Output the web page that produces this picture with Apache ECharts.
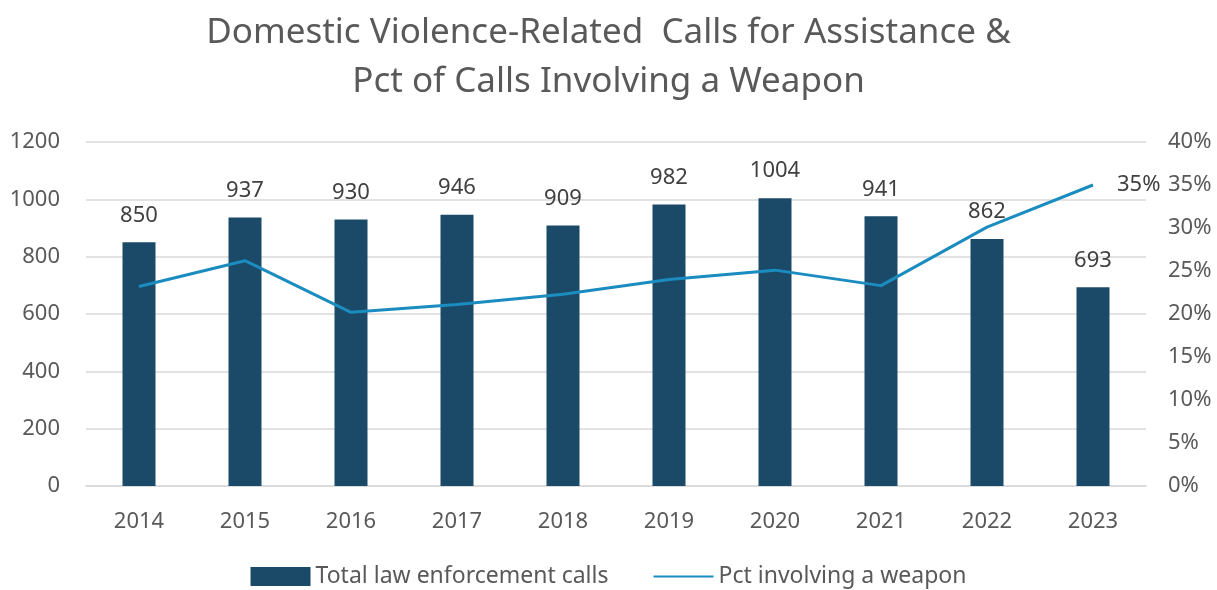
<!DOCTYPE html>
<html>
<head>
<meta charset="utf-8">
<script src="https://cdn.jsdelivr.net/npm/echarts@6/dist/echarts.min.js"></script>
<style>
  html, body { margin: 0; padding: 0; background: #fff; }
  #chart { width: 1217px; height: 590px; }
</style>
</head>
<body>
<div id="chart"></div>
<script>
// data
var years = ['2014', '2015', '2016', '2017', '2018', '2019', '2020', '2021', '2022', '2023'];
var totalCalls = [850, 937, 930, 946, 909, 982, 1004, 941, 862, 693];
var pctWeapon = [23.2, 26.2, 20.2, 21.1, 22.3, 24.0, 25.1, 23.3, 30.1, 35.0];

var chart = echarts.init(document.getElementById('chart'));
var font = '"Noto Sans", sans-serif';

var option = {
    animation: false,
    textStyle: { fontFamily: font },
    title: {
        text: 'Domestic Violence-Related  Calls for Assistance &\nPct of Calls Involving a Weapon',
        left: 'center',
        top: 4,
        textStyle: {
            fontFamily: font,
            fontSize: 35,
            fontWeight: 'normal',
            color: '#595959',
            lineHeight: 49
        }
    },
    legend: {
        bottom: -3,
        left: 'center',
        itemGap: 44,
        itemWidth: 60,
        itemHeight: 19,
        textStyle: { fontFamily: font, fontSize: 23, color: '#595959' },
        data: [
            { name: 'Total law enforcement calls', icon: 'rect' },
            { name: 'Pct involving a weapon', itemStyle: { opacity: 0 } }
        ]
    },
    grid: {
        left: 86,
        right: 71,
        top: 142,
        bottom: 104,
        containLabel: false
    },
    xAxis: {
        type: 'category',
        data: years,
        axisLine: { lineStyle: { color: '#d9d9d9', width: 1.5 } },
        axisTick: { show: false },
        axisLabel: { fontSize: 22, color: '#595959', margin: 25 }
    },
    yAxis: [
        {
            type: 'value',
            min: 0,
            max: 1200,
            interval: 200,
            axisLine: { show: false },
            axisTick: { show: false },
            splitLine: { lineStyle: { color: '#d9d9d9', width: 1.5 } },
            axisLabel: {
                fontSize: 22, color: '#595959', margin: 26,
                formatter: function (v) { return String(v); }
            }
        },
        {
            type: 'value',
            min: 0,
            max: 40,
            interval: 5,
            axisLine: { show: false },
            axisTick: { show: false },
            splitLine: { show: false },
            axisLabel: { fontSize: 22, color: '#595959', margin: 22, formatter: '{value}%' }
        }
    ],
    series: [
        {
            name: 'Total law enforcement calls',
            type: 'bar',
            data: totalCalls,
            barWidth: 33,
            itemStyle: { color: '#1b4a68' },
            label: {
                show: true,
                position: 'top',
                distance: 16,
                fontSize: 22,
                color: '#404040'
            }
        },
        {
            name: 'Pct involving a weapon',
            type: 'line',
            yAxisIndex: 1,
            data: pctWeapon,
            symbol: 'none',
            lineStyle: { color: '#1a8cc0', width: 3 },
            itemStyle: { color: '#1a8cc0' },
            label: { show: false },
            endLabel: {
                show: true,
                formatter: function (p) { return Math.round(p.value) + '%'; },
                fontSize: 22,
                color: '#404040',
                distance: 24
            }
        }
    ]
};

chart.setOption(option);
</script>
</body>
</html>
